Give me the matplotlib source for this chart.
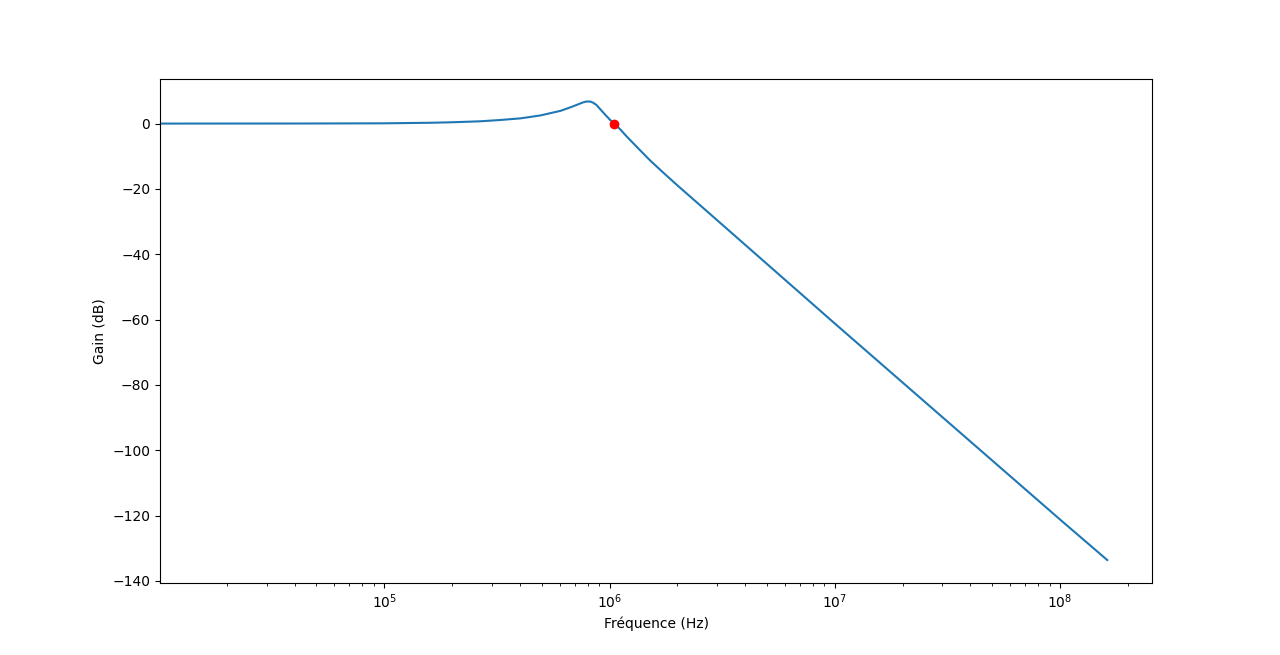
import numpy as np
import matplotlib.pyplot as plt

frequences = [1.0e4, 4.25e4, 1.0e5, 1.61e5, 2.0e5, 2.67e5, 3.28e5, 4.03e5, 4.94e5,
              6.06e5, 6.72e5, 7.2e5, 7.6e5, 7.9e5, 8.2e5, 8.45e5, 8.75e5, 9.12e5,
              9.60e5, 1.0e6, 1.05e6, 1.12e6, 1.19e6, 1.35e6, 1.52e6, 1.75e6, 2.0e6,
              2.95e6, 1.0e7, 1.0e8, 1.62e8]
gain_db = [0.0, 0.02, 0.08, 0.25, 0.4, 0.7, 1.1, 1.6, 2.5,
           3.9, 5.0, 5.8, 6.45, 6.75, 6.75, 6.4, 5.7, 4.3,
           2.6, 1.3, 0.0, -1.9, -3.9, -7.8, -11.4, -15.3, -18.9,
           -29.1, -61.2, -121.2, -133.6]

# Point de coupure a 0 dB
f_coupure = 1.05e6
g_coupure = 0.0

fig = plt.figure(figsize=(12.8, 6.55), dpi=100)
plt.plot(frequences, gain_db)
plt.plot(f_coupure, g_coupure, 'ro')
plt.xscale('log')
plt.xlim(1.01e4, 2.56e8)
plt.xlabel("Fréquence (Hz)")
plt.ylabel("Gain (dB)")
plt.savefig("out.png", dpi=100)
